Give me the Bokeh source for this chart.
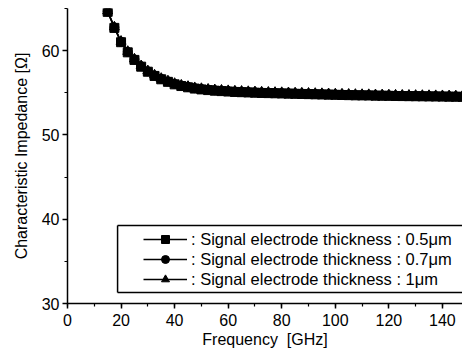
from bokeh.plotting import figure
from bokeh.models import Legend, LegendItem, Range1d, SingleIntervalTicker
from bokeh.embed import file_html
from bokeh.resources import INLINE

freq = [15, 17.5, 20, 22.5, 25, 27.5, 30, 32.5, 35, 37.5, 40, 42.5, 45, 47.5, 50,
        52.5, 55, 57.5, 60, 62.5, 65, 67.5, 70, 72.5, 75, 77.5, 80, 82.5, 85, 87.5,
        90, 92.5, 95, 97.5, 100, 102.5, 105, 107.5, 110, 112.5, 115, 117.5, 120,
        122.5, 125, 127.5, 130, 132.5, 135, 137.5, 140, 142.5, 145, 147.5]

z_05 = [64.6, 62.7, 61.0, 59.8, 58.9, 58.1, 57.5, 57.0, 56.6, 56.3, 56.0, 55.8, 55.65,
        55.5, 55.4, 55.32, 55.25, 55.2, 55.15, 55.1, 55.07, 55.04, 55.01, 54.98, 54.96,
        54.94, 54.92, 54.9, 54.88, 54.86, 54.84, 54.82, 54.8, 54.78, 54.76, 54.74,
        54.72, 54.7, 54.69, 54.68, 54.66, 54.65, 54.64, 54.62, 54.61, 54.6, 54.59,
        54.58, 54.57, 54.56, 54.55, 54.54, 54.53, 54.52]

z_07 = [64.65, 62.75, 61.05, 59.85, 58.95, 58.15, 57.55, 57.05, 56.65, 56.35, 56.05,
        55.85, 55.7, 55.55, 55.45, 55.37, 55.3, 55.25, 55.2, 55.15, 55.12, 55.09, 55.06,
        55.03, 55.01, 54.99, 54.97, 54.95, 54.93, 54.91, 54.89, 54.87, 54.85, 54.83,
        54.81, 54.79, 54.77, 54.75, 54.74, 54.73, 54.71, 54.7, 54.69, 54.67, 54.66,
        54.65, 54.64, 54.63, 54.62, 54.61, 54.6, 54.59, 54.58, 54.57]

z_10 = [64.7, 62.8, 61.1, 59.9, 59.0, 58.2, 57.6, 57.1, 56.7, 56.4, 56.1, 55.9, 55.75,
        55.6, 55.5, 55.42, 55.35, 55.3, 55.25, 55.2, 55.17, 55.14, 55.11, 55.08, 55.06,
        55.04, 55.02, 55.0, 54.98, 54.96, 54.94, 54.92, 54.9, 54.88, 54.86, 54.84,
        54.82, 54.8, 54.79, 54.78, 54.76, 54.75, 54.74, 54.72, 54.71, 54.7, 54.69,
        54.68, 54.67, 54.66, 54.65, 54.64, 54.63, 54.62]

labels = [": Signal electrode thickness : 0.5\u03bcm",
          ": Signal electrode thickness : 0.7\u03bcm",
          ": Signal electrode thickness : 1\u03bcm"]

# legend frame (decoration, data units)
box_left, box_right, box_bottom, box_top = 18.7, 160.0, 31.3, 39.25

FONT = "Liberation Sans"

p = figure(width=462, height=358, output_backend="svg", toolbar_location=None,
           x_range=Range1d(0, 147.5), y_range=Range1d(30, 65),
           min_border_left=67, min_border_right=0, min_border_top=8,
           min_border_bottom=55)
p.outline_line_color = None
p.grid.visible = False
p.background_fill_color = "white"
p.border_fill_color = "white"

for ax in (p.xaxis[0], p.yaxis[0]):
    ax.axis_line_width = 1.5
    ax.axis_line_color = "black"
    ax.major_tick_line_width = 1.5
    ax.minor_tick_line_width = 1.2
    ax.major_tick_out = 5
    ax.major_tick_in = 0
    ax.minor_tick_out = 3
    ax.minor_tick_in = 0
    ax.major_label_text_font = FONT
    ax.major_label_text_font_size = "16px"
    ax.major_label_text_color = "black"
    ax.axis_label_text_font = FONT
    ax.axis_label_text_font_size = "16px"
    ax.axis_label_text_font_style = "normal"
    ax.axis_label_text_color = "black"

p.xaxis[0].ticker = SingleIntervalTicker(interval=20, num_minor_ticks=2)
p.yaxis[0].ticker = SingleIntervalTicker(interval=10, num_minor_ticks=2)
p.xaxis.axis_label = "Frequency \u00a0[GHz]"
p.yaxis.axis_label = "Characteristic Impedance [\u03a9]"
p.xaxis.major_label_standoff = 5
p.yaxis.major_label_standoff = 3
p.xaxis.axis_label_standoff = 2
p.yaxis.axis_label_standoff = 9

p.quad(left=[box_left], right=[box_right], bottom=[box_bottom], top=[box_top],
       fill_color="white", line_color=None, level="underlay")
p.segment(x0=[box_left, box_left, box_left], y0=[box_bottom, box_top, box_bottom],
          x1=[box_right, box_right, box_left], y1=[box_bottom, box_top, box_top],
          line_color="black", line_width=1.5)

items = []
series = [(z_05, "square", 9), (z_07, "circle", 9), (z_10, "triangle", 10)]
for (ys, marker, sz), lab in zip(series, labels):
    ln = p.line(freq, ys, line_color="black", line_width=1.5)
    sc = p.scatter(freq, ys, marker=marker, size=sz, fill_color="black",
                   line_color="black")
    items.append(LegendItem(label=lab, renderers=[ln, sc]))

legend = Legend(items=items, location=(76, 14), padding=0, spacing=0,
                glyph_width=44, glyph_height=20, label_height=20,
                label_standoff=4, margin=0,
                label_text_font=FONT, label_text_font_size="16.5px",
                label_text_color="black",
                border_line_color=None, background_fill_alpha=0.0)
p.add_layout(legend, "center")

open("out.html", "w").write(file_html(p, INLINE))
